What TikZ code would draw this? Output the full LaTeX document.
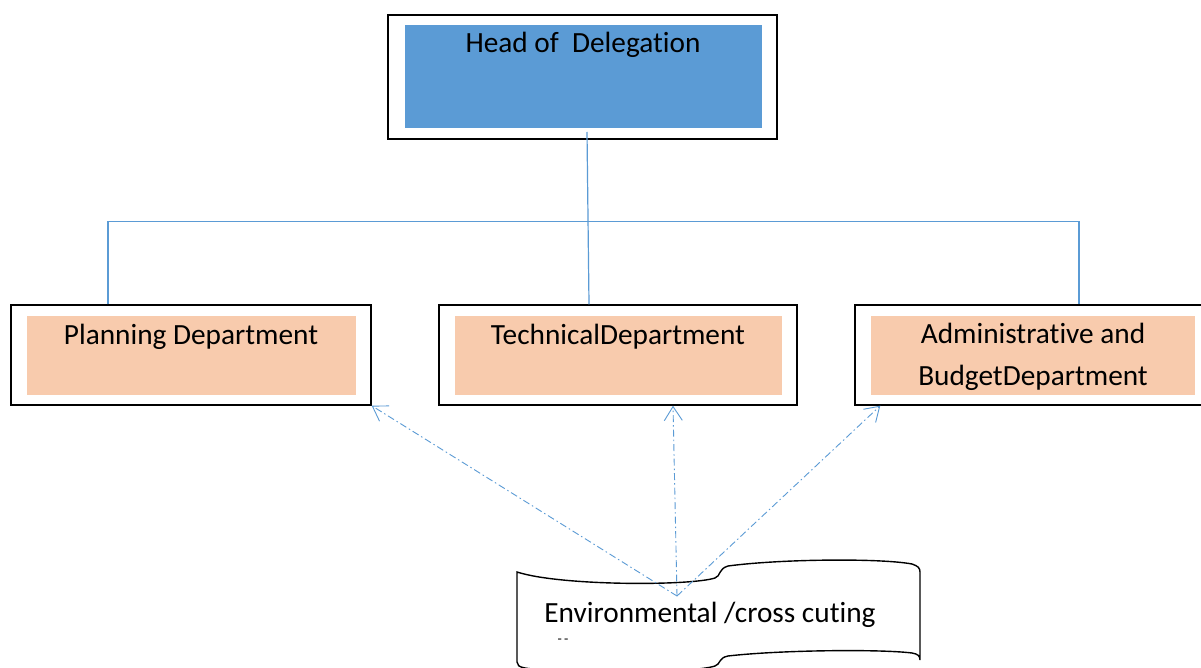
\documentclass[tikz,border=0pt]{standalone}
\usepackage{fontspec}
\setmainfont[Ligatures=NoCommon]{Carlito}
\usetikzlibrary{arrows.meta}
\definecolor{hodblue}{HTML}{5B9BD5}
\definecolor{deptorange}{HTML}{F8CBAD}
\definecolor{linkblue}{HTML}{5B9BD5}
\begin{document}
\begin{tikzpicture}[x=1pt,y=-1pt,
  outerbox/.style={draw=black, line width=1.4pt, fill=white, inner sep=0pt},
  innerbox/.style={fill=#1, draw=none, inner sep=0pt},
  label/.style={font=\fontsize{29.3}{42}\selectfont, anchor=base, inner sep=0pt, align=center},
  conn/.style={draw=linkblue, line width=1.2pt},
  dasharrow/.style={draw=linkblue, line width=0.9pt, dash pattern=on 7pt off 3pt on 1.5pt off 3pt, -{Straight Barb[length=14pt,width=18pt,line width=0.9pt]}}
]
\useasboundingbox (0,0) rectangle (1201,668);
\fill[white] (0,0) rectangle (1201,668);

% Head of Delegation
\node[outerbox, minimum width=389pt, minimum height=124pt] (hodO) at (582.5,77) {};
\node[innerbox=hodblue, minimum width=357pt, minimum height=103pt] (hodI) at (583.5,76.5) {};
\node[label] (hodT) at (583,53) {Head of\ \ Delegation};

% Departments
\node[outerbox, minimum width=360pt, minimum height=100pt] (planO) at (191,355) {};
\node[innerbox=deptorange, minimum width=329pt, minimum height=79pt] (planI) at (191.5,355.5) {};
\node[label] (planT) at (191,344) {Planning Department};

\node[outerbox, minimum width=358pt, minimum height=100pt] (techO) at (618,355) {};
\node[innerbox=deptorange, minimum width=327pt, minimum height=79pt] (techI) at (618.5,355.5) {};
\node[label] (techT) at (618,344) {TechnicalDepartment};

\node[outerbox, minimum width=354pt, minimum height=100pt] (admO) at (1032,355) {};
\node[innerbox=deptorange, minimum width=324pt, minimum height=79pt] (admI) at (1033,355.5) {};
\node[label] (admT) at (1033,385) {Administrative and\\BudgetDepartment};

% Tree connectors
\coordinate (hodlow) at (587,132);
\draw[conn] (hodlow) -- ([xshift=-29pt]techO.north);
\draw[conn] ([xshift=-83pt]planO.north) -- ++(0,-83) -| ([xshift=47pt]admO.north);

% Environmental / cross cutting shape
\draw[line width=1.4pt, fill=white]
  (517,572) .. controls (560,586) and (690,586) .. (715,578)
  .. controls (721,576) and (718,569) .. (728,566)
  .. controls (780,559) and (880,558) .. (912,564)
  .. controls (918,566) and (920,568) .. (920,572)
  -- (920,660)
  .. controls (920,656) and (918,654) .. (912,653)
  .. controls (880,649) and (780,650) .. (728,656)
  .. controls (718,658) and (721,664) .. (715,666)
  .. controls (690,674) and (560,674) .. (525,668)
  .. controls (519,667) and (517,665) .. (517,662) -- cycle;
\node[label] (envT) at (710,622) {Environmental /cross cuting};
\node[font=\fontsize{14}{16}\selectfont, inner sep=0pt, anchor=base] (envT2) at (563,643) {-\,-};

% Dash-dot arrows
\coordinate (src) at (677,596);
\draw[dasharrow] (src) -- (planO.south east);
\draw[dasharrow] (src) -- ([xshift=55pt]techO.south);
\draw[dasharrow] (src) -- ([xshift=26pt]admO.south west);
\end{tikzpicture}
\end{document}
